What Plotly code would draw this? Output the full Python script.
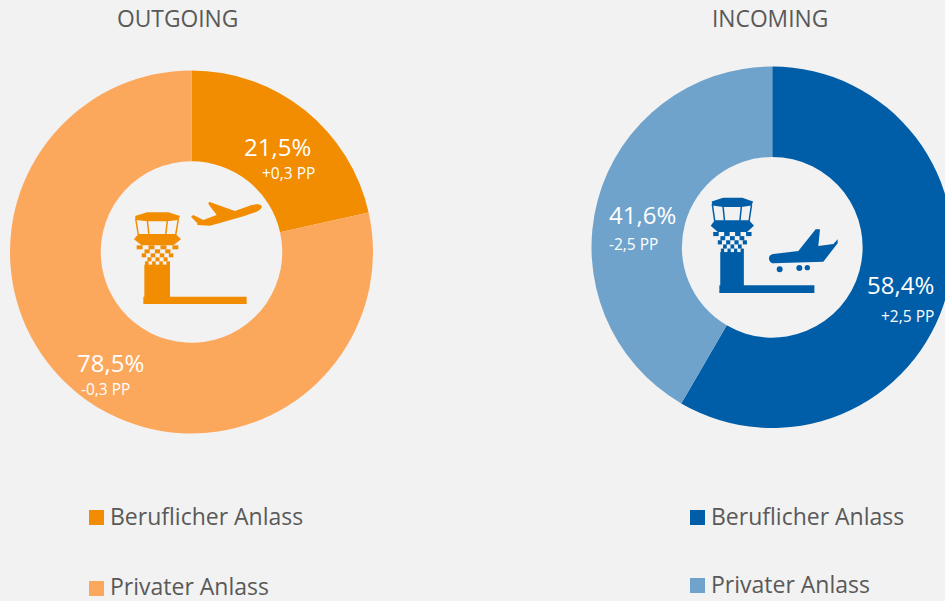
import plotly.graph_objects as go

categories = ["Beruflicher Anlass", "Privater Anlass"]
outgoing_values = [21.5, 78.5]
incoming_values = [58.4, 41.6]
outgoing_changes = ["+0,3 PP", "-0,3 PP"]
incoming_changes = ["+2,5 PP", "-2,5 PP"]
outgoing_colors = ["#F28C00", "#FCA85C"]
incoming_colors = ["#005EA8", "#6FA3CC"]
titles = ["OUTGOING", "INCOMING"]

W, H = 960, 601
BG = "#F2F2F2"
TXT = "#595959"
FONT = "Open Sans"


def px(x):
    return x / W


def py(y):
    return 1 - y / H


def pct(v):
    return f"{v:.1f}".replace(".", ",") + "%"


fig = go.Figure()
fig.add_trace(go.Pie(
    labels=categories, values=outgoing_values, hole=0.5, sort=False, direction="clockwise",
    marker=dict(colors=outgoing_colors, line=dict(width=0)), textinfo="none", hoverinfo="label+percent",
    showlegend=False, domain=dict(x=[px(10), px(373)], y=[py(433.5), py(70.5)]),
))
fig.add_trace(go.Pie(
    labels=categories, values=incoming_values, hole=0.5, sort=False, direction="clockwise",
    marker=dict(colors=incoming_colors, line=dict(width=0)), textinfo="none", hoverinfo="label+percent",
    showlegend=False, domain=dict(x=[px(591.5), px(953)], y=[py(428), py(66.5)]),
))

shapes = []
annotations = []


def text(x, y, s, size, color=TXT, anchor="center"):
    annotations.append(dict(x=px(x), y=py(y), xref="paper", yref="paper", text=s, showarrow=False,
                            xanchor=anchor, yanchor="middle",
                            font=dict(family=FONT, size=size, color=color)))


def rect(x0, y0, x1, y1, color):
    shapes.append(dict(type="rect", xref="paper", yref="paper", x0=px(x0), x1=px(x1), y0=py(y1), y1=py(y0),
                       fillcolor=color, line=dict(width=0), layer="above"))


def tower(ox, oy, sx, sy, dx, dy, color):
    """Tower icon drawn in crop units (3 per pixel)."""
    X = lambda v: ox + (dx + (v - 100) * sx) / 3
    Y = lambda v: oy + (dy + (v - 350) * sy) / 3

    def poly(points, width=0):
        path = "M" + " L".join(f"{px(X(a)):.5f},{py(Y(b)):.5f}" for a, b in points)
        if width == 0:
            path += " Z"
        shapes.append(dict(type="path", xref="paper", yref="paper", path=path,
                           fillcolor=color if width == 0 else None,
                           line=dict(width=width, color=color), layer="above"))

    poly([(75, 108), (112, 97), (175, 97), (210, 108), (205, 120), (172, 124), (112, 124), (78, 120)])
    for line in ([(77, 115), (85, 165)], [(112, 122), (117, 165)], [(172, 122), (167, 165)], [(205, 118), (197, 165)]):
        poly(line, 1.5)
    poly([(85, 162), (197, 162), (213, 178), (190, 196), (95, 196), (72, 178)])
    rows = [(80, 205), (88, 197), (95, 190), (100, 185), (105, 180)]
    for r, (a, b) in enumerate(rows):
        n = 7
        step = (b - a) / n
        for c in range(n):
            if (c + r) % 2 == 0:
                y0 = 196 + r * 12
                poly([(a + c * step, y0), (a + (c + 1) * step, y0),
                      (a + (c + 1) * step, y0 + 12), (a + c * step, y0 + 12)])
    poly([(103, 254), (180, 254), (180, 352), (103, 352)])
    poly([(100, 350), (410, 350), (410, 372), (100, 372)])


def curve_path(ox, oy, cmds):
    out = []
    for cmd in cmds:
        letter, nums = cmd[0], cmd[1:]
        pts = [f"{px(ox + nums[i] / 3):.5f},{py(oy + nums[i + 1] / 3):.5f}" for i in range(0, len(nums), 2)]
        out.append(letter + " ".join(pts))
    return " ".join(out) + " Z"


tower(110, 180, 1.0, 1.0, 100, 350, outgoing_colors[0])
tower(695, 180, 0.92, 1.04, 73, 316, incoming_colors[0])

shapes.append(dict(type="path", xref="paper", yref="paper", layer="above", fillcolor=outgoing_colors[0],
                   line=dict(width=0), path=curve_path(110, 180, [
    ("M", 455, 78), ("C", 450, 72, 440, 72, 425, 75), ("L", 375, 93), ("L", 297, 65), ("L", 295, 72),
    ("L", 320, 105), ("L", 280, 120), ("L", 250, 105), ("L", 243, 110), ("L", 262, 130), ("L", 262, 135),
    ("L", 300, 137), ("C", 340, 125, 400, 110, 440, 95), ("C", 450, 90, 457, 85, 455, 78)])))
shapes.append(dict(type="path", xref="paper", yref="paper", layer="above", fillcolor=incoming_colors[0],
                   line=dict(width=0), path=curve_path(695, 180, [
    ("M", 222, 235), ("C", 222, 227, 228, 223, 235, 222), ("L", 310, 213), ("L", 362, 148), ("L", 375, 148),
    ("L", 370, 198), ("L", 415, 192), ("L", 428, 178), ("L", 428, 190), ("L", 385, 245), ("L", 235, 250),
    ("C", 226, 250, 222, 242, 222, 235)])))
for cx, cy, r in [(254, 268, 9), (313, 264, 9), (337, 263, 8)]:
    shapes.append(dict(type="circle", xref="paper", yref="paper", layer="above", fillcolor=incoming_colors[0],
                       line=dict(width=0), x0=px(695 + (cx - r) / 3), x1=px(695 + (cx + r) / 3),
                       y0=py(180 + (cy + r) / 3), y1=py(180 + (cy - r) / 3)))

text(177, 19, titles[0], 22.8)
text(770, 19, titles[1], 22.8)

text(277, 146, pct(outgoing_values[0]), 24, "white")
text(288, 173, outgoing_changes[0], 15.5, "white")
text(110, 362, pct(outgoing_values[1]), 24, "white")
text(105, 389, outgoing_changes[1], 15.5, "white")
text(900, 284, pct(incoming_values[0]), 24, "white")
text(907, 316, incoming_changes[0], 15.5, "white")
text(642, 214, pct(incoming_values[1]), 24, "white")
text(633, 244, incoming_changes[1], 15.5, "white")

rect(89, 510, 104, 525, outgoing_colors[0])
rect(89, 581, 104, 596, outgoing_colors[1])
rect(690, 510, 705, 525, incoming_colors[0])
rect(690, 578, 705, 593, incoming_colors[1])
text(108, 516, categories[0], 23, anchor="left")
text(108, 586, categories[1], 23, anchor="left")
text(709, 516, categories[0], 23, anchor="left")
text(709, 584, categories[1], 23, anchor="left")

fig.update_layout(width=W, height=H, autosize=False, margin=dict(l=0, r=0, t=0, b=0),
                  paper_bgcolor=BG, plot_bgcolor=BG, shapes=shapes, annotations=annotations,
                  font=dict(family=FONT))
fig.write_html("out.html", config=dict(displayModeBar=False), post_script=(
    "document.body.style.margin='0';document.body.style.overflow='hidden';"
    f"document.body.style.background='{BG}';document.documentElement.style.overflow='hidden';"))
